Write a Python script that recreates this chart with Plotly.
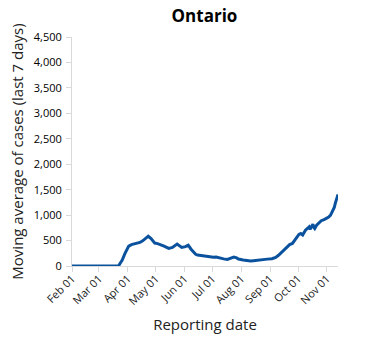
import plotly.graph_objects as go

dates = ["2020-02-01","2020-03-01","2020-03-22","2020-03-24","2020-03-26","2020-03-29",
"2020-04-02","2020-04-05","2020-04-09","2020-04-14","2020-04-17","2020-04-20","2020-04-23",
"2020-04-26","2020-04-30","2020-05-03","2020-05-06","2020-05-10","2020-05-15","2020-05-19",
"2020-05-24","2020-05-27","2020-05-29","2020-06-02","2020-06-05","2020-06-08","2020-06-10",
"2020-06-13","2020-06-15","2020-06-20","2020-06-24","2020-06-28","2020-07-02","2020-07-05",
"2020-07-09","2020-07-13","2020-07-17","2020-07-20","2020-07-24","2020-07-27","2020-07-29",
"2020-08-03","2020-08-07","2020-08-11","2020-08-14","2020-08-18","2020-08-21","2020-08-25",
"2020-08-29","2020-09-03","2020-09-07","2020-09-10","2020-09-12","2020-09-16","2020-09-19",
"2020-09-22","2020-09-25","2020-09-28","2020-09-30","2020-10-02","2020-10-04","2020-10-06",
"2020-10-09","2020-10-11","2020-10-13","2020-10-14","2020-10-16","2020-10-17","2020-10-18",
"2020-10-19","2020-10-21","2020-10-24","2020-10-26","2020-10-29","2020-11-01","2020-11-03",
"2020-11-05","2020-11-07","2020-11-09","2020-11-10","2020-11-12","2020-11-13"]
cases = [0,0,0,60,117,248,
390,420,440,463,495,550,586,
540,450,440,424,390,345,365,
430,390,365,380,410,330,280,
230,215,200,195,180,170,175,
150,140,130,150,175,160,137,
117,105,98,105,117,120,130,
135,143,170,210,248,320,377,
420,443,520,572,620,638,610,
703,740,768,720,800,820,760,
736,800,866,890,912,940,963,
1000,1061,1150,1225,1330,1406]

tick_vals = ["2020-02-01","2020-03-01","2020-04-01","2020-05-01","2020-06-01","2020-07-01",
             "2020-08-01","2020-09-01","2020-10-01","2020-11-01"]
tick_text = ["Feb 01","Mar 01","Apr 01","May 01","Jun 01","Jul 01","Aug 01","Sep 01","Oct 01","Nov 01"]
y_ticks = [0,500,1000,1500,2000,2500,3000,3500,4000,4500]

fig = go.Figure(go.Scatter(x=dates, y=cases, mode="lines",
                           line=dict(color="#0b529e", width=3), hoverinfo="skip"))

fig.update_layout(
    width=375, height=343,
    margin=dict(l=71.5, r=37, t=36.5, b=77),
    paper_bgcolor="white", plot_bgcolor="white",
    font=dict(family="Open Sans", color="#000"),
    showlegend=False,
    title=dict(text="<b>Ontario</b>", x=204.5/375, xanchor="center", y=1-16/343, yanchor="middle",
               font=dict(size=17, family="Open Sans", color="#000")),
)
fig.update_xaxes(
    range=["2020-02-01","2020-11-13"], showgrid=False, zeroline=False,
    showline=True, linecolor="#d9d9d9", linewidth=1,
    ticks="outside", ticklen=5, tickcolor="#d9d9d9",
    tickvals=tick_vals, ticktext=tick_text, tickangle=-45,
    tickfont=dict(size=11, color="#222"), ticklabelstandoff=-4,
    title=dict(text="Reporting date", font=dict(size=15, color="#222"), standoff=12),
)
fig.update_yaxes(
    range=[0,4500], showgrid=False, zeroline=False,
    showline=True, linecolor="#d9d9d9", linewidth=1,
    ticks="outside", ticklen=5, tickcolor="#d9d9d9",
    tickvals=y_ticks, tickformat=",d", ticklabelstandoff=2,
    tickfont=dict(size=11, color="#000"),
    title=dict(text="Moving average of cases (last 7 days)", font=dict(size=15, color="#222"), standoff=6),
)

fig.write_html("out.html")
